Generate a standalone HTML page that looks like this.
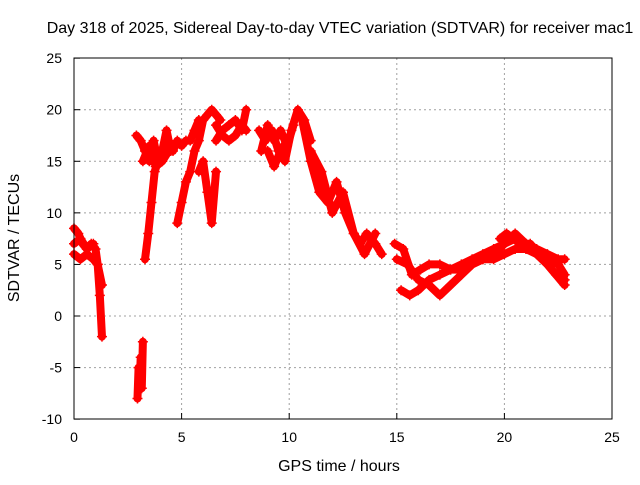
<!DOCTYPE html>
<html><head><meta charset="utf-8"><style>
body{margin:0;background:#fff;}
svg{font-family:"Liberation Sans",sans-serif;font-size:14px;}
.big{font-size:16px;}
</style></head><body>
<svg id="chart" width="640" height="480">
<text class="big" x="340" y="33" text-anchor="middle">Day 318 of 2025, Sidereal Day-to-day VTEC variation (SDTVAR) for receiver mac1</text>
<text class="big" x="339" y="471" text-anchor="middle">GPS time / hours</text>
<text class="big" transform="translate(19,238) rotate(-90)" text-anchor="middle">SDTVAR / TECUs</text>
<g id="grid"></g><g id="marks"></g>
<rect x="74" y="58" width="538" height="361" fill="none" stroke="#000"/>
</svg>
<script>
const xTicks=[0,5,10,15,20,25];
const yTicks=[-10,-5,0,5,10,15,20,25];
const tracks=[
{t:[0,0.2,0.4,0.6,0.8,1.0,1.1,1.2,1.3],v:[8.5,8,7,6.5,7,6.5,5,2,-2]},
{t:[0,0.3,0.6,0.9,1.1,1.3],v:[6,5.5,6,5.5,5,3]},
{t:[0,0.3,0.6,0.9],v:[7,7.5,6.5,7]},
{t:[2.95,3.0,3.05,3.1,3.15,3.2],v:[-8,-5,-6.5,-4,-7,-2.5]},
{t:[2.9,3.1,3.3,3.5,3.7,3.9,4.1,4.3,4.5],v:[17.5,17,16,15,17,15,16,18,16]},
{t:[3.2,3.5,3.8,4.1,4.4],v:[15,16.5,14.5,15,16]},
{t:[3.3,3.45,3.6,3.75,3.9],v:[5.5,8,11,14,15]},
{t:[4.8,5.0,5.2,5.4,5.6,5.8,6.0,6.2,6.4,6.6,6.8],v:[9,11,13,14,16,17,19,19.5,20,19.5,19]},
{t:[4.6,4.8,5.0,5.2,5.4,5.6,5.8],v:[16,17,16.5,17,17,18,19]},
{t:[5.8,6.0,6.2,6.4,6.6],v:[14,15,12,9,14]},
{t:[6.6,6.9,7.2,7.5,7.8,8.0],v:[17,18,18.5,19,18,20]},
{t:[6.6,6.9,7.2,7.5,7.8,8.0],v:[18.5,17.5,17,17.5,18.5,18]},
{t:[8.6,8.9,9.2,9.5,9.8,10.1,10.4,10.7,11.0],v:[18,17,18,16,15,18,20,19,17]},
{t:[8.7,9.0,9.3,9.6,9.9,10.2],v:[16,18.5,17,18,16.5,18.5]},
{t:[9.0,9.3,9.6,9.9],v:[16,14.5,16,17]},
{t:[10.6,11.0,11.4,11.8,12.2,12.6,13.0,13.3,13.6,14.0,14.3],v:[19,15,12,11,13,10,8,7,8,7,6]},
{t:[11,11.5,12,12.5,13,13.5,14],v:[16,14,10,12,8,6,8]},
{t:[14.9,15.3,15.7,16.1,16.5,17,17.5,18,18.5,19,19.5,20,20.5,21,21.5,22,22.5,22.8],v:[7,6.5,4,4.5,5,5,4.5,5,5.5,6,6.5,7,8,7,6.5,6,5.5,5.5]},
{t:[15,15.5,16,16.5,17,17.5,18,18.5,19,19.5,20,20.5,21,21.5,22,22.5,22.8],v:[5.5,5,3.5,3,2,3,4,5,5.5,5.5,6,6.5,6.5,6,5.5,5,4]},
{t:[15.2,15.6,16,16.5,17,17.5,18,18.5,19,19.5,20,20.5,21,21.5,22,22.8],v:[2.5,2,2.5,3.5,4,4.5,4.5,5,5.5,6,7,7.5,7,6,5,3]},
{t:[19.8,20.1,20.4,20.8,21.2,21.6,22,22.4,22.8],v:[7.5,8,7.5,7,7,6,5,4,3.5]}
];
const NS='http://www.w3.org/2000/svg';
const X=t=>74+t*538/25, Y=v=>316-v*361/35;
const grid=document.getElementById('grid'), marks=document.getElementById('marks');
function mk(tag,attrs,parent){const e=document.createElementNS(NS,tag);for(const k in attrs)e.setAttribute(k,attrs[k]);parent.appendChild(e);return e;}
xTicks.forEach(t=>{const x=X(t);
 if(t>0&&t<25){const l=mk('line',{x1:x,x2:x,y1:58,y2:419,stroke:'#a0a0a0','stroke-dasharray':'2,3'},grid);}
 const tk=mk('line',{x1:x,x2:x,y1:419,y2:413,stroke:'#000'},grid);
 const tx=mk('text',{x:x,y:442,'text-anchor':'middle'},grid);tx.textContent=t;});
yTicks.forEach(v=>{const y=Y(v);
 if(v>-10&&v<25){const l=mk('line',{x1:74,x2:612,y1:y,y2:y,stroke:'#a0a0a0','stroke-dasharray':'2,3'},grid);}
 const tk=mk('line',{x1:74,x2:80,y1:y,y2:y,stroke:'#000'},grid);
 const tx=mk('text',{x:62,y:y+5,'text-anchor':'end'},grid);tx.textContent=v;});
tracks.forEach(tr=>{
 const pts=tr.t.map((t,i)=>X(t)+','+Y(tr.v[i])).join(' ');
 const pl=mk('polyline',{points:pts,fill:'none',stroke:'#f00','stroke-width':8,'stroke-linejoin':'round','stroke-linecap':'round'},marks);
 
 
 tr.t.forEach((t,i)=>{const x=X(t),y=Y(tr.v[i]);
  const p=mk('path',{d:`M${x-5},${y}h10M${x},${y-5}v10`,stroke:'#f00','stroke-width':1.5},marks);
  
  });
});
</script>
</body></html>
